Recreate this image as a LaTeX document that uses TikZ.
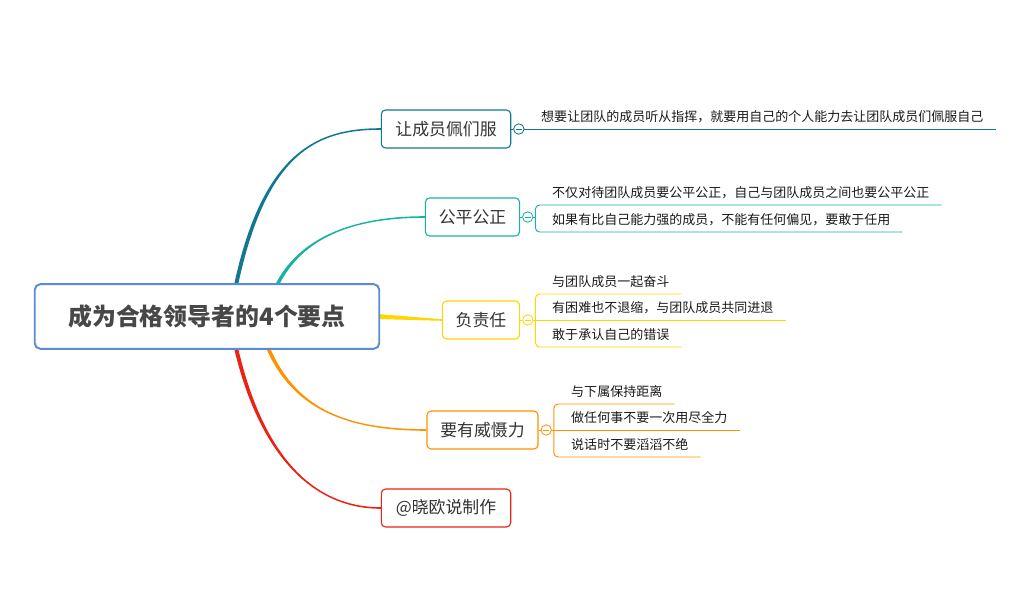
\documentclass[tikz,border=0pt]{standalone}
\usepackage{fontspec}
\setmainfont{Noto Sans CJK SC}
\usetikzlibrary{positioning,calc,backgrounds}
\definecolor{mroot}{RGB}{91,140,210}
\definecolor{mteal}{RGB}{18,120,145}
\definecolor{mgreen}{RGB}{22,180,160}
\definecolor{myellow}{RGB}{255,214,0}
\definecolor{morange}{RGB}{255,146,0}
\definecolor{mred}{RGB}{235,35,20}
\definecolor{mtext}{RGB}{51,51,51}
\definecolor{mleaf}{RGB}{25,25,25}
\tikzset{
  rootbox/.style ={rectangle, rounded corners=4pt, draw=mroot, line width=1.4pt, fill=white,
                   minimum width=245pt, minimum height=46pt, text=mtext!90,
                   font=\fontsize{17}{20}\selectfont\bfseries},
  topic/.style   ={rectangle, rounded corners=3pt, draw=#1, line width=0.8pt, fill=white,
                   minimum height=27pt, inner xsep=0pt, text=mtext,
                   font=\fontsize{12}{14}\selectfont},
  fold/.style    ={circle, draw=#1, fill=white, line width=0.6pt, inner sep=0pt,
                   minimum size=7.4pt,
                   path picture={\draw[#1, line width=0.6pt]
                     ([xshift=1.6pt]path picture bounding box.west) --
                     ([xshift=-1.6pt]path picture bounding box.east);}},
  leaf/.style    ={anchor=south west, inner xsep=8.5pt, inner ysep=4.3pt, text=mleaf,
                   font=\fontsize{9.25}{11}\selectfont},
  uline/.style   ={draw=#1, line width=0.7pt}
}
\begin{document}
\begin{tikzpicture}[x=0.025cm, y=-0.025cm]
\useasboundingbox (0,0) rectangle (1022,606);
\node[rootbox] (root) at (207,316.5) {成为合格领导者的4个要点};
\node[topic=mteal, minimum width=92pt] (t1) at (446,129) {让成员佩们服};
\node[topic=mgreen, minimum width=67pt] (t2) at (472.5,217) {公平公正};
\node[topic=myellow, minimum width=55pt] (t3) at (481,320) {负责任};
\node[topic=morange, minimum width=79pt] (t4) at (482.5,430) {要有威慑力};
\node[topic=mred, minimum width=92pt] (t5) at (446,508) {@晓欧说制作};

% fold buttons
\node[fold=mteal, right=1.4pt of t1] (f1) {};
\node[fold=mgreen, right=1.4pt of t2] (f2) {};
\node[fold=myellow, right=1.4pt of t3] (f3) {};
\node[fold=morange, right=1.4pt of t4] (f4) {};
\coordinate (k2) at ($(f2.east)+(2,0)$);
\coordinate (k3) at ($(f3.east)+(2,0)$);
\coordinate (k4) at ($(f4.east)+(2,0)$);

% leaves
\node[leaf] (l1) at (529,129) {想要让团队的成员听从指挥，就要用自己的个人能力去让团队成员们佩服自己};
\node[leaf] (l21) at (540,205) {不仅对待团队成员要公平公正，自己与团队成员之间也要公平公正};
\node[leaf] (l22) at (540,232) {如果有比自己能力强的成员，不能有任何偏见，要敢于任用};
\node[leaf] (l31) at (540,294) {与团队成员一起奋斗};
\node[leaf] (l32) at (540,320) {有困难也不退缩，与团队成员共同进退};
\node[leaf] (l33) at (540,347) {敢于承认自己的错误};
\node[leaf] (l41) at (559,404) {与下属保持距离};
\node[leaf] (l42) at (559,430) {做任何事不要一次用尽全力};
\node[leaf] (l43) at (559,457) {说话时不要滔滔不绝};

\draw[uline=mteal] (t1) -- (f1) (f1) -- (l1.south east);
\draw[uline=mgreen] (t2) -- (f2) (f2) -- (k2);
\draw[uline=mgreen, rounded corners=3pt] (l21.south east) -- (l21.south west -| k2)
  -- (l22.south west -| k2) -- (l22.south east);
\draw[uline=myellow] (t3) -- (f3) (f3) -- (l32.south east);
\draw[uline=myellow, rounded corners=3pt] (l31.south east) -- (l31.south west -| k3)
  -- (l33.south west -| k3) -- (l33.south east);
\draw[uline=morange] (t4) -- (f4) (f4) -- (l42.south east);
\draw[uline=morange, rounded corners=3pt] (l41.south east) -- (l41.south west -| k4)
  -- (l43.south west -| k4) -- (l43.south east);

% tapered branches from the central topic
\begin{scope}[on background layer]
\fill[mteal] ($(root.north)+(27,2)$) .. controls +(29,-136) and +(-61,0) .. ($(t1.west)+(0,-0.8)$)
  -- ($(t1.west)+(0,0.8)$) .. controls +(-61,0) and +(29,-136) .. ($(root.north)+(31,2)$) -- cycle;
\fill[mgreen] ($(root.north)+(68,2)$) .. controls +(23,-46) and +(-75,0) .. ($(t2.west)+(0,-0.8)$)
  -- ($(t2.west)+(0,0.8)$) .. controls +(-75,0) and +(23,-46) .. ($(root.north)+(72,2)$) -- cycle;
\fill[myellow] ($(root.east)+(-3,-2.5)$) -- ($(t3.west)+(0,-0.8)$)
  -- ($(t3.west)+(0,0.8)$) -- ($(root.east)+(-3,2.5)$) -- cycle;
\fill[morange] ($(root.south)+(59,-2)$) .. controls +(27,63) and +(-77,0) .. ($(t4.west)+(0,0.8)$)
  -- ($(t4.west)+(0,-0.8)$) .. controls +(-77,0) and +(27,63) .. ($(root.south)+(63,-2)$) -- cycle;
\fill[mred] ($(root.south)+(27,-2)$) .. controls +(24,103) and +(-71,0) .. ($(t5.west)+(0,0.8)$)
  -- ($(t5.west)+(0,-0.8)$) .. controls +(-71,0) and +(24,103) .. ($(root.south)+(31,-2)$) -- cycle;
\end{scope}
\end{tikzpicture}
\end{document}
